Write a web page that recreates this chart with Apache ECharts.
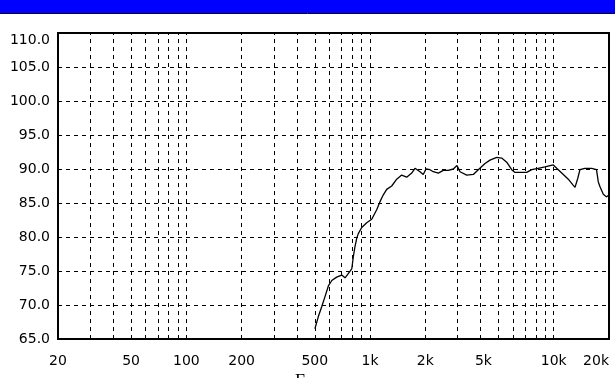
<!DOCTYPE html>
<html>
<head>
<meta charset="utf-8">
<script src="https://cdn.jsdelivr.net/npm/echarts@6/dist/echarts.min.js"></script>
<style>
html,body{margin:0;padding:0;background:#fff;}
#c{width:615px;height:378px;}
</style>
</head>
<body>
<div id="c"></div>
<script>
// Frequency response data (Hz, dB)
var freqHz = [501,523,545,568,593,619,658,701,731,761,795,811,828,846,863,901,959,1021,1087,1133,1181,1232,1312,1397,1487,1583,1686,1757,1870,1949,2016,2120,2210,2353,2505,2667,2840,2975,3089,3360,3650,3885,4225,4499,4893,5209,5547,5905,6156,6553,7127,7588,8241,8961,9945,10590,11276,12006,12688,13060,13510,13900,14800,16100,17100,17490,17870,18620,19420,20000];
var splDb = [66.5,68.3,69.7,71.2,72.8,73.6,74.1,74.4,74.0,74.6,75.3,77.1,78.6,79.8,80.5,81.4,82.1,82.6,84.0,85.2,86.2,87.0,87.5,88.5,89.1,88.8,89.4,90.1,89.6,89.2,90.0,89.9,89.6,89.4,89.8,89.8,90.0,90.5,89.6,89.1,89.2,89.9,90.8,91.3,91.7,91.6,91.0,89.9,89.5,89.5,89.5,89.9,90.1,90.3,90.6,89.9,89.2,88.5,87.7,87.3,88.6,89.9,90.1,90.1,89.9,88.1,87.4,86.3,85.9,86.2];
var xTickLabels = [20,50,100,200,500,1000,2000,5000,10000,20000];
var xGridLines = [30,40,50,60,70,80,90,100,200,300,400,500,600,700,800,900,1000,2000,3000,4000,5000,6000,7000,8000,9000,10000];
var yMin = 65, yMax = 110, yStep = 5;
var xName = 'Frequency';

var chart = echarts.init(document.getElementById('c'), null, {renderer:'canvas'});
var pts = freqHz.map(function(f,i){return [f, splDb[i]];});
var dash = [4,4];
var lblFont = 'DejaVu Sans';
chart.setOption({
  animation:false,
  backgroundColor:'#ffffff',
  grid:{left:58,right:6,top:33,bottom:39,show:true,borderColor:'#000',borderWidth:2,backgroundColor:'transparent'},
  graphic:[
    {type:'rect',shape:{x:0,y:0,width:615,height:13},style:{fill:'#0000ff'},z:10},
    {type:'line',shape:{x1:0,y1:13.5,x2:615,y2:13.5},style:{stroke:'#000033',lineWidth:1},z:10},
    {type:'text',x:333,y:373,style:{text:xName,font:'18px "Liberation Serif"',fill:'#000',align:'center',verticalAlign:'top'},z:10}
  ],
  xAxis:{
    type:'log',logBase:10,min:20,max:20000,
    axisLine:{show:true,lineStyle:{color:'#000',width:2}},
    axisTick:{show:false},
    splitLine:{show:false},
    minorTick:{show:false},
    axisLabel:{
      customValues:xTickLabels,
      color:'#000',fontSize:14,fontFamily:lblFont,margin:15,
      alignMaxLabel:'right',
      formatter:function(v){
        var r=Math.round(v);
        var s = r>=1000 ? (r/1000)+'k' : String(r);
        if(r===5000) return '{s|'+s+'}';
        return s;
      },
      rich:{s:{fontSize:14,fontFamily:lblFont,color:'#000',padding:[0,30,0,0]}}
    }
  },
  yAxis:{
    type:'value',min:yMin,max:yMax,interval:yStep,
    axisLine:{show:true,lineStyle:{color:'#000',width:2}},
    axisTick:{show:false},
    splitLine:{show:true,lineStyle:{color:'#000',width:1,type:dash}},
    axisLabel:{
      color:'#000',fontSize:14,fontFamily:lblFont,margin:8,
      formatter:function(v){
        var s=v.toFixed(1);
        if(v===yMax) return '{t|'+s+'}';
        return s;
      },
      rich:{t:{fontSize:14,fontFamily:lblFont,color:'#000',padding:[14,0,0,0]}}
    }
  },
  series:[
    {
      type:'line',data:pts,symbol:'none',smooth:false,
      lineStyle:{color:'#000',width:1.3},
      z:5,
      markLine:{
        silent:true,symbol:['none','none'],label:{show:false},
        lineStyle:{color:'#000',width:1,type:dash},
        data:xGridLines.map(function(v){return {xAxis:v};}),
        animation:false
      }
    }
  ]
});
</script>
</body>
</html>
